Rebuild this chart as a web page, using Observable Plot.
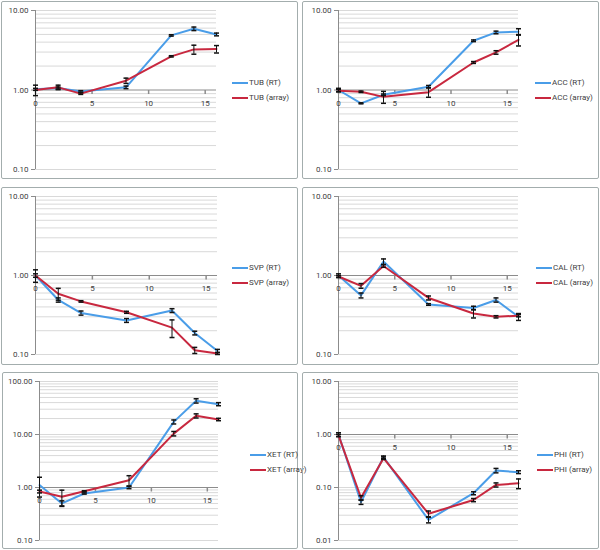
<!DOCTYPE html>
<html><head><meta charset="utf-8">
<script src="https://cdn.jsdelivr.net/npm/d3@7"></script>
<script src="https://cdn.jsdelivr.net/npm/@observablehq/plot@0.6"></script>
<style>
body{margin:0;background:#fff;font-family:Roboto,"Liberation Sans",sans-serif;}
#root{position:relative;width:600px;height:550px;overflow:hidden;background:#fff;}
.box{position:absolute;border:1.5px solid #a3adad;border-radius:2px;box-sizing:border-box;}
.plotwrap{position:absolute;}
.legend{position:absolute;font-size:8px;color:#404040;line-height:15px;}
.legend .item{display:flex;align-items:center;height:15px;white-space:nowrap;}
.legend .sw{display:inline-block;width:16px;height:2px;margin-right:1px;}
</style></head>
<body><div id="root"></div>
<script>
// ---- data ----
const days = [0, 2, 4, 8, 12, 14, 16];
const xTickValues = [0, 5, 10, 15];
const genes = ["TUB", "ACC", "SVP", "CAL", "XET", "PHI"];
const seriesSuffix = ["(RT)", "(array)"];

const tubRT     = [1.02, 1.06, 0.96, 1.08, 4.86, 5.89, 5.0];
const tubRTErr  = [0.03, 0.03, 0.02, 0.04, 0.1, 0.3, 0.2];
const tubArr    = [1.0, 1.08, 0.90, 1.31, 2.65, 3.24, 3.27];
const tubArrErr = [0.15, 0.07, 0.02, 0.1, 0.05, 0.42, 0.35];

const accRT     = [1.0, 0.68, 0.87, 1.10, 4.16, 5.3, 5.4];
const accRTErr  = [0.05, 0.01, 0.02, 0.04, 0.1, 0.2, 0.5];
const accArr    = [0.98, 0.95, 0.82, 0.94, 2.22, 2.97, 4.28];
const accArrErr = [0.03, 0.02, 0.14, 0.13, 0.06, 0.15, 0.7];

const svpRT     = [1.0, 0.49, 0.335, 0.27, 0.36, 0.187, 0.111];
const svpRTErr  = [0.05, 0.03, 0.02, 0.015, 0.02, 0.01, 0.005];
const svpArr    = [1.0, 0.587, 0.47, 0.342, 0.219, 0.113, 0.103];
const svpArrErr = [0.18, 0.1, 0.01, 0.01, 0.055, 0.01, 0.003];

const calRT     = [1.0, 0.56, 1.50, 0.43, 0.388, 0.49, 0.30];
const calRTErr  = [0.05, 0.04, 0.12, 0.01, 0.02, 0.03, 0.03];
const calArr    = [0.97, 0.74, 1.32, 0.52, 0.33, 0.30, 0.31];
const calArrErr = [0.03, 0.05, 0.05, 0.03, 0.04, 0.01, 0.01];

const xetRT     = [1.11, 0.50, 0.77, 1.0, 17.3, 43.2, 37.4];
const xetRTErr  = [0.45, 0.06, 0.02, 0.05, 1.5, 4, 2.5];
const xetArr    = [0.84, 0.67, 0.85, 1.37, 10.4, 22.5, 19.2];
const xetArrErr = [0.05, 0.22, 0.02, 0.3, 1.0, 2, 1];

const phiRT     = [1.0, 0.053, 0.373, 0.0245, 0.078, 0.209, 0.195];
const phiRTErr  = [0.08, 0.005, 0.02, 0.003, 0.005, 0.02, 0.012];
const phiArr    = [0.96, 0.064, 0.358, 0.032, 0.058, 0.112, 0.12];
const phiArrErr = [0.05, 0.006, 0.02, 0.004, 0.004, 0.01, 0.025];

const yDomains = [[0.1, 10], [0.1, 10], [0.1, 10], [0.1, 10], [0.1, 100], [0.01, 10]];

// ---- layout / style ----
const colors = ["#4a9de8", "#c8283f"];
const layout = [
  {box:[1,1,297,178],   svg:[0,0],     mL:35, mR:6, mT:10, mB:11, leg:[232,75]},
  {box:[302,1,297,178], svg:[300,0],   mL:38, mR:4, mT:10, mB:11, leg:[535,75]},
  {box:[1,187,297,178], svg:[0,186],   mL:35, mR:5, mT:10, mB:12, leg:[232,260]},
  {box:[302,187,297,178], svg:[300,186], mL:38, mR:4, mT:10, mB:12, leg:[536,260]},
  {box:[2,372,296,177], svg:[0,371],   mL:39, mR:4, mT:10, mB:11, leg:[250,447]},
  {box:[302,372,297,177], svg:[300,371], mL:38, mR:4, mT:10, mB:11, leg:[537,447]}
];
const panelData = [
  [tubRT, tubRTErr, tubArr, tubArrErr],
  [accRT, accRTErr, accArr, accArrErr],
  [svpRT, svpRTErr, svpArr, svpArrErr],
  [calRT, calRTErr, calArr, calArrErr],
  [xetRT, xetRTErr, xetArr, xetArrErr],
  [phiRT, phiRTErr, phiArr, phiArrErr]
];

const capSymbol = {draw(ctx){ ctx.moveTo(-2.5, 0); ctx.lineTo(2.5, 0); }};
const tickDown = {draw(ctx){ ctx.moveTo(0, 0); ctx.lineTo(0, 4); }};

const root = document.getElementById("root");

genes.forEach((gene, gi) => {
  const L = layout[gi];
  const box = document.createElement("div");
  box.className = "box";
  Object.assign(box.style, {left:L.box[0]+"px", top:L.box[1]+"px", width:L.box[2]+"px", height:L.box[3]+"px"});
  root.appendChild(box);

  const [rt, rtErr, arr, arrErr] = panelData[gi];
  const rows = [];
  days.forEach((d, i) => rows.push({day:d, series:seriesSuffix[0], v:rt[i], e:rtErr[i]}));
  days.forEach((d, i) => rows.push({day:d, series:seriesSuffix[1], v:arr[i], e:arrErr[i]}));

  const [lo, hi] = yDomains[gi];
  const decades = [];
  const grid = [];
  for (let p = Math.round(Math.log10(lo)); p <= Math.round(Math.log10(hi)); p++) {
    decades.push(Math.pow(10, p));
    if (Math.pow(10, p) < hi) for (let k = 2; k <= 9; k++) grid.push(k * Math.pow(10, p));
  }

  const chart = Plot.plot({
    width: 222, height: 180,
    marginLeft: L.mL, marginRight: L.mR, marginTop: L.mT, marginBottom: L.mB,
    style: {fontFamily: "Roboto, 'Liberation Sans', sans-serif", fontSize: "8px", background: "transparent", overflow: "visible"},
    x: {domain: [0, 16], axis: null},
    y: {type: "log", domain: [lo, hi]},
    color: {domain: seriesSuffix, range: colors},
    marks: [
      Plot.ruleY(grid.concat(decades.filter(d => d !== 1)), {stroke: "#d9d9d9", strokeWidth: 1}),
      Plot.ruleX([0], {stroke: "#8c8c8c"}),
      Plot.ruleY([1], {stroke: "#8c8c8c"}),
      Plot.axisY(decades, {tickFormat: d3.format(".2f"), tickSize: 4, tickPadding: 3, stroke: "#8c8c8c", fill: "#404040", label: null}),
      Plot.dot(xTickValues, {x: d => d, y: () => 1, symbol: tickDown, stroke: "#8c8c8c", fill: "none"}),
      Plot.text(xTickValues, {x: d => d, y: () => 1, dy: 13, text: d => String(d), fill: "#404040"}),
      Plot.line(rows, {x: "day", y: "v", z: "series", stroke: "series", strokeWidth: 2}),
      Plot.ruleX(rows, {x: "day", y1: d => d.v - d.e, y2: d => d.v + d.e, stroke: "#111", strokeWidth: 1}),
      Plot.dot(rows, {x: "day", y: d => d.v + d.e, symbol: capSymbol, stroke: "#111", fill: "none"}),
      Plot.dot(rows, {x: "day", y: d => d.v - d.e, symbol: capSymbol, stroke: "#111", fill: "none"})
    ]
  });
  const wrap = document.createElement("div");
  wrap.className = "plotwrap";
  Object.assign(wrap.style, {left: L.svg[0]+"px", top: L.svg[1]+"px"});
  wrap.appendChild(chart);
  root.appendChild(wrap);

  const leg = document.createElement("div");
  leg.className = "legend";
  Object.assign(leg.style, {left: L.leg[0]+"px", top: L.leg[1]+"px"});
  seriesSuffix.forEach((s, si) => {
    const it = document.createElement("div");
    it.className = "item";
    const sw = document.createElement("span");
    sw.className = "sw";
    sw.style.background = colors[si];
    it.appendChild(sw);
    it.appendChild(document.createTextNode(gene + " " + s));
    leg.appendChild(it);
  });
  root.appendChild(leg);
});
</script>
</body></html>
